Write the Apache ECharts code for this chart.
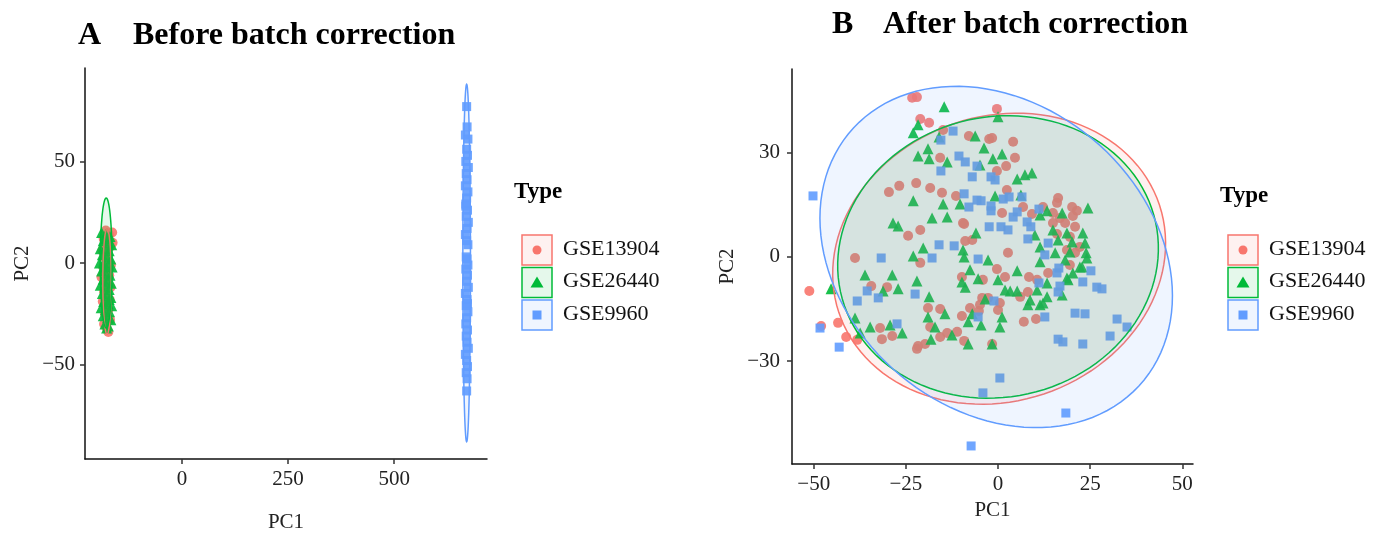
<!DOCTYPE html>
<html>
<head>
<meta charset="utf-8">
<script src="https://cdn.jsdelivr.net/npm/echarts@6/dist/echarts.min.js"></script>
<style>
  html, body { margin: 0; padding: 0; background: #fff; }
  #chart { width: 1382px; height: 538px; }
</style>
</head>
<body>
<div id="chart"></div>
<script>
// groups and colours (ggplot defaults)
const typeNames = ['GSE13904', 'GSE26440', 'GSE9960'];
const typeColors = ['#F8766D', '#00BA38', '#619CFF'];
const typeSymbols = ['circle', 'triangle', 'rect'];

// tick values
const beforeXTicks = [0, 250, 500];
const beforeYTicks = [-50, 0, 50];
const afterXTicks = [-50, -25, 0, 25, 50];
const afterYTicks = [-30, 0, 30];

// panel A: before batch correction [PC1, PC2]
const beforeGSE13904 = [
  [-180,16],[-172,14],[-185,12],[-176,10],[-170,8],[-188,6],[-178,5],[-183,3],[-174,1],[-168,-1],
  [-186,-2],[-179,-4],[-172,-6],[-190,-7],[-181,-9],[-175,-11],[-169,-12],[-184,-14],[-177,-16],[-171,-18],
  [-187,-19],[-180,-21],[-174,-23],[-182,-25],[-176,-27],[-170,-28],[-184,-30],[-178,-32],[-174,-34],[-179,-13],
  [-173,-3],[-181,9],[-165,15],[-164,10]
];
const beforeGSE26440 = [
  [-190,15],[-180,14],[-170,13],[-186,11],[-175,10],[-166,9],[-193,7],[-182,7],[-172,6],[-188,4],
  [-178,3],[-168,2],[-195,0],[-184,0],[-174,-1],[-165,-2],[-190,-4],[-180,-5],[-170,-6],[-186,-8],
  [-176,-9],[-167,-10],[-193,-11],[-182,-12],[-172,-13],[-188,-15],[-178,-16],[-168,-17],[-185,-19],[-175,-20],
  [-166,-21],[-191,-22],[-181,-23],[-171,-24],[-186,-26],[-176,-27],[-168,-28],[-182,-30],[-174,-31],[-178,-32],
  [-184,-2],[-172,-18],[-179,12]
];
const beforeGSE9960 = [
  [671,77],[672,67],[668,63],[674,61],[671,56],[673,53],[669,50],[675,47],[670,44],[672,41],
  [668,38],[674,35],[671,32],[669,29],[673,26],[670,23],[675,20],[672,17],[668,14],[671,11],
  [674,9],[670,3],[672,2],[669,-3],[673,-6],[671,-9],[675,-12],[668,-15],[672,-18],[670,-21],
  [674,-24],[671,-27],[669,-30],[673,-33],[670,-36],[672,-39],[675,-42],[668,-45],[671,-48],[673,-51],
  [670,-54],[672,-57],[671,-63],[674,-1],[669,28],[673,-20]
];

// panel B: after batch correction [PC1, PC2]
const afterGSE13904 = [
  [-23.3,45.9],[-22.0,46.1],[-0.3,42.7],[-21.1,39.8],[-18.7,38.7],[-14.9,36.6],[-7.9,34.9],[-2.4,34.0],[4.1,33.2],[-15.7,28.6],
  [4.6,28.6],[2.2,26.2],[-0.3,24.8],[-22.2,21.3],[-18.4,19.9],[-26.8,20.5],[-29.6,18.7],[-15.2,18.5],[-11.4,17.6],[2.4,19.3],
  [6.8,14.4],[1.1,12.7],[16.3,17.0],[16.0,15.6],[20.1,14.4],[21.4,13.3],[20.3,11.8],[16.8,11.2],[14.9,9.8],[18.2,9.8],
  [20.9,8.7],[12.2,14.4],[9.2,12.4],[14.9,12.7],[-24.4,6.1],[-21.1,7.8],[-9.2,9.5],[-8.9,4.6],[-7.0,4.9],[2.7,1.2],
  [-38.8,-0.3],[-21.1,-1.7],[-9.8,-5.8],[-0.3,-3.5],[1.9,-5.8],[8.4,-5.8],[13.6,-4.6],[19.5,5.8],[16.0,6.6],[22.2,2.9],
  [18.7,2.0],[20.9,1.2],[19.5,-2.3],[-51.2,-9.8],[-48.0,-19.9],[-43.4,-19.0],[-41.2,-23.1],[-38.2,-23.9],[-34.4,-8.4],[-30.1,-8.7],
  [-32.0,-20.5],[-31.5,-23.7],[-28.7,-22.8],[-21.7,-25.7],[-22.0,-26.5],[-19.8,-25.1],[-18.4,-20.2],[-19.0,-14.7],[-15.7,-15.0],[-15.7,-23.1],
  [-13.8,-21.9],[-11.1,-21.6],[-9.8,-17.0],[-4.9,-13.8],[-5.2,-15.6],[-4.3,-11.8],[0.0,-15.3],[0.5,-13.3],[-1.6,-25.1],[7.0,-18.7],
  [10.3,-17.9],[8.1,-10.1],[6.0,-11.5],[-4.1,-6.6],[10.6,-6.6],[-2.7,-11.8],[-7.6,-14.7],[-9.2,-24.2],[-1.6,34.3],[-9.5,9.8]
];
const afterGSE26440 = [
  [-14.6,43.3],[0.0,40.4],[-21.7,38.1],[-23.0,35.8],[-16.0,34.6],[-6.2,34.9],[-3.8,31.4],[-19.0,31.2],[-21.7,29.1],[-18.7,28.3],
  [-13.8,27.4],[-1.4,28.3],[1.1,29.7],[-4.9,26.5],[5.2,22.5],[7.3,23.7],[9.2,24.2],[-23.0,16.2],[-14.9,15.3],[-10.3,15.3],
  [-0.8,17.6],[6.2,17.9],[-13.8,11.5],[-17.9,11.2],[-28.5,9.8],[-27.1,8.9],[-6.0,6.9],[-20.3,2.6],[-23.0,0.3],[-9.5,2.0],
  [-9.2,0.0],[-2.7,-0.9],[11.4,12.1],[13.3,13.3],[17.4,12.7],[24.4,14.1],[14.9,7.8],[18.7,6.9],[23.0,6.9],[10.0,6.3],
  [16.3,4.9],[20.1,4.3],[23.6,4.0],[11.4,2.9],[15.5,1.2],[19.5,1.4],[23.9,1.2],[24.1,-0.3],[11.4,-1.4],[18.2,-0.9],
  [22.8,-2.9],[20.3,-4.6],[18.7,-6.1],[-36.1,-5.2],[-28.7,-5.2],[-7.6,-3.7],[5.2,-4.0],[-45.3,-9.2],[-38.8,-17.6],[-31.2,-9.8],
  [-27.1,-9.2],[-22.0,-6.9],[-34.7,-20.2],[-29.3,-19.6],[-26.0,-21.9],[-37.4,-21.9],[-18.7,-11.5],[-19.0,-17.3],[-17.1,-20.2],[-14.4,-16.4],
  [-12.5,-22.5],[-18.2,-23.7],[-9.8,-7.2],[-8.9,-8.7],[-5.4,-6.3],[0.0,-6.6],[1.9,-9.5],[3.3,-9.8],[5.2,-9.8],[-8.1,-18.7],
  [-8.1,-25.1],[-1.6,-25.1],[-4.6,-19.6],[-3.5,-12.1],[1.1,-17.3],[0.5,-20.2],[8.1,-13.8],[11.4,-13.8],[8.7,-12.4],[10.6,-9.5],
  [13.3,-11.5],[13.3,-7.5],[17.4,-11.0],[19.0,-6.6],[22.2,-2.9],[-7.0,-16.4],[12.2,-13.3]
];
const afterGSE9960 = [
  [-50.2,17.6],[-48.3,-20.5],[-43.1,-26.0],[-38.2,-12.7],[-35.5,-9.8],[-32.5,-11.8],[-31.7,-0.3],[-27.4,-19.3],[-22.5,-10.7],[-17.9,-0.3],
  [-16.0,3.5],[-11.9,3.2],[-15.5,33.7],[-12.2,36.3],[-10.6,29.1],[-8.9,27.4],[-5.7,26.2],[-15.5,24.8],[-7.0,23.1],[-1.9,23.1],
  [-0.8,22.2],[-9.2,18.2],[-7.9,14.4],[-5.7,16.4],[-4.6,16.2],[-1.9,14.7],[-1.9,13.3],[1.4,16.7],[3.0,17.3],[6.5,17.3],
  [5.2,13.0],[4.1,11.5],[7.9,10.1],[8.9,8.7],[11.1,13.8],[-2.4,8.7],[0.8,8.7],[2.7,7.8],[8.1,5.2],[13.6,4.0],
  [12.7,0.6],[-5.4,-0.6],[16.5,-3.2],[16.0,-4.6],[25.2,-4.0],[16.8,-8.4],[16.3,-10.1],[11.1,-7.5],[26.8,-8.7],[28.2,-9.2],
  [-1.1,-12.7],[20.9,-16.2],[23.6,-16.4],[-5.4,-17.3],[12.7,-17.3],[32.3,-17.9],[35.0,-20.2],[30.4,-22.8],[23.0,-25.1],[16.3,-23.7],
  [17.6,-24.5],[0.5,-34.9],[-4.1,-39.2],[18.4,-45.0],[-7.3,-54.5],[23.0,-7.2]
];

// 95% ellipses: [centre x, centre y, semi-axis a, semi-axis b, angle deg]
const beforeEllipses = [[-177,-9,26,10,90],[-179,0,32,14,90],[671,0,88,9,90]];
const afterEllipses = [[0.3,-0.5,46.3,40.7,27.5],[0,0,44,40.2,21.5],[-0.5,0,53.8,42.6,-48.6]];

const beforeData = [beforeGSE13904, beforeGSE26440, beforeGSE9960];
const afterData = [afterGSE13904, afterGSE26440, afterGSE9960];

const FONT = 'Liberation Serif';
const symbolSizes = { circle: 10, triangle: 11, rect: 9 };

function rgba(hex, a) {
  const n = parseInt(hex.slice(1), 16);
  return 'rgba(' + (n >> 16) + ',' + ((n >> 8) & 255) + ',' + (n & 255) + ',' + a + ')';
}

function ellipseRenderer(color) {
  return function (params, api) {
    const cx = api.value(0), cy = api.value(1), a = api.value(2), b = api.value(3);
    const th = api.value(4) * Math.PI / 180;
    const pts = [];
    for (let i = 0; i < 120; i++) {
      const t = i / 120 * Math.PI * 2;
      pts.push(api.coord([
        cx + a * Math.cos(t) * Math.cos(th) - b * Math.sin(t) * Math.sin(th),
        cy + a * Math.cos(t) * Math.sin(th) + b * Math.sin(t) * Math.cos(th)
      ]));
    }
    return {
      type: 'polygon',
      shape: { points: pts },
      style: { fill: rgba(color, 0.1), stroke: color, lineWidth: 1.5 }
    };
  };
}

function makeAxis(gridIndex, min, max, ticks, name, nameGap, labelMargin) {
  return {
    type: 'value', gridIndex: gridIndex, min: min, max: max,
    name: name, nameLocation: 'middle', nameGap: nameGap,
    nameTextStyle: { fontFamily: FONT, fontSize: 21, color: '#222' },
    axisLine: { show: true, onZero: false, lineStyle: { color: '#111', width: 1.5 } },
    axisTick: { show: true, length: 5, customValues: ticks, lineStyle: { color: '#333', width: 1.5 } },
    axisLabel: {
      customValues: ticks, margin: labelMargin, fontFamily: FONT, fontSize: 21, color: '#222',
      formatter: v => (v < 0 ? '\u2212' + Math.abs(v) : String(v))
    },
    splitLine: { show: false }
  };
}

const series = [];
[beforeData, afterData].forEach((panel, p) => {
  panel.forEach((pts, i) => {
    series.push({
      name: typeNames[i], type: 'scatter', xAxisIndex: p, yAxisIndex: p,
      symbol: typeSymbols[i], symbolSize: symbolSizes[typeSymbols[i]],
      itemStyle: { color: typeColors[i], opacity: 0.9 },
      data: pts, z: 2, silent: true
    });
  });
});
[beforeEllipses, afterEllipses].forEach((ells, p) => {
  ells.forEach((e, i) => {
    series.push({
      type: 'custom', xAxisIndex: p, yAxisIndex: p, z: 3, silent: true,
      renderItem: ellipseRenderer(typeColors[i]), data: [e]
    });
  });
});

// legend (ggplot style key boxes)
function legendGraphics(x0, titleY) {
  const els = [{
    type: 'text', left: x0 - 8, top: titleY - 12,
    style: { text: 'Type', font: 'bold 23px "' + FONT + '"', fill: '#000' }
  }];
  typeNames.forEach((nm, i) => {
    const bx = x0, by = 235 + i * 32.5, cx = bx + 15, cy = by + 15;
    els.push({
      type: 'rect', shape: { x: bx, y: by, width: 30, height: 30 },
      style: { fill: rgba(typeColors[i], 0.1), stroke: typeColors[i], lineWidth: 1.5 }
    });
    if (typeSymbols[i] === 'circle') {
      els.push({ type: 'circle', shape: { cx: cx, cy: cy, r: 4.5 }, style: { fill: typeColors[i] } });
    } else if (typeSymbols[i] === 'triangle') {
      els.push({ type: 'polygon', shape: { points: [[cx, cy - 6], [cx + 6.5, cy + 5], [cx - 6.5, cy + 5]] }, style: { fill: typeColors[i] } });
    } else {
      els.push({ type: 'rect', shape: { x: cx - 4.5, y: cy - 4.5, width: 9, height: 9 }, style: { fill: typeColors[i] } });
    }
    els.push({
      type: 'text', left: bx + 41, top: cy - 12,
      style: { text: nm, font: '22px "' + FONT + '"', fill: '#111' }
    });
  });
  return els;
}

const chart = echarts.init(document.getElementById('chart'));
chart.setOption({
  backgroundColor: '#fff',
  animation: false,
  grid: [
    { left: 85, top: 68, width: 402, height: 395 },
    { left: 792, top: 69, width: 401, height: 395 }
  ],
  xAxis: [
    makeAxis(0, -229, 719, beforeXTicks, 'PC1', 53, 10),
    makeAxis(1, -55.9, 52.9, afterXTicks, 'PC1', 35, 10)
  ],
  yAxis: [
    makeAxis(0, -96.5, 96, beforeYTicks, 'PC2', 52, 10),
    makeAxis(1, -59.7, 54.2, afterYTicks, 'PC2', 54, 12)
  ],
  series: series,
  graphic: [
    { type: 'text', left: 78, top: 20, style: { text: 'A', font: 'bold 32px "' + FONT + '"', fill: '#000' } },
    { type: 'text', left: 133, top: 20, style: { text: 'Before batch correction', font: 'bold 32px "' + FONT + '"', fill: '#000' } },
    { type: 'text', left: 832, top: 9, style: { text: 'B', font: 'bold 32px "' + FONT + '"', fill: '#000' } },
    { type: 'text', left: 883, top: 9, style: { text: 'After batch correction', font: 'bold 32px "' + FONT + '"', fill: '#000' } }
  ].concat(legendGraphics(522, 193), legendGraphics(1228, 197))
});
</script>
</body>
</html>
